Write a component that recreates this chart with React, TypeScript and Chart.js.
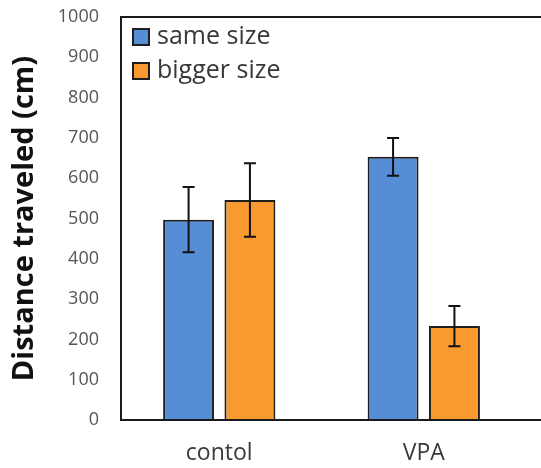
import React, { useEffect, useRef } from "react";
import { Chart, registerables } from "chart.js";

Chart.register(...registerables);

const categories = ["contol", "VPA"];
const seriesNames = ["same size", "bigger size"];
const sameSize = [497, 653];
const sameSizeErr = [81, 47];
const biggerSize = [546, 233];
const biggerSizeErr = [91, 50];
const yTicks = [0, 100, 200, 300, 400, 500, 600, 700, 800, 900, 1000];

const BLUE = "#558ed5";
const ORANGE = "#f99a31";
const EDGE = "#1e1e1e";
const FONT = "'Open Sans', 'Liberation Sans', sans-serif";

const errorBarPlugin = {
  id: "errorBars",
  afterDatasetsDraw(chart: any) {
    const ctx = chart.ctx;
    const y = chart.scales.y;
    ctx.save();
    ctx.strokeStyle = "#111";
    ctx.lineWidth = 2;
    chart.data.datasets.forEach((ds: any, di: number) => {
      const meta = chart.getDatasetMeta(di);
      meta.data.forEach((bar: any, i: number) => {
        const v = ds.data[i];
        const e = ds.errors[i];
        const top = y.getPixelForValue(v + e);
        const bot = y.getPixelForValue(v - e);
        const x = bar.x;
        ctx.beginPath();
        ctx.moveTo(x, top);
        ctx.lineTo(x, bot);
        ctx.moveTo(x - 6, top);
        ctx.lineTo(x + 6, top);
        ctx.moveTo(x - 6, bot);
        ctx.lineTo(x + 6, bot);
        ctx.stroke();
      });
    });
    ctx.restore();
  },
};

const framePlugin = {
  id: "frame",
  afterDraw(chart: any) {
    const ctx = chart.ctx;
    const a = chart.chartArea;
    const x0 = a.left + 4;
    ctx.save();
    ctx.strokeStyle = "#1a1a1a";
    ctx.lineWidth = 2;
    ctx.beginPath();
    ctx.moveTo(chart.width, a.top);
    ctx.lineTo(x0, a.top);
    ctx.lineTo(x0, a.bottom);
    ctx.lineTo(chart.width, a.bottom);
    ctx.stroke();
    // legend
    const colors = [BLUE, ORANGE];
    ctx.font = `25px ${FONT}`;
    ctx.textBaseline = "middle";
    chart.data.datasets.forEach((ds: any, i: number) => {
      const cy = a.top + 20 + i * 34;
      const sx = x0 + 12;
      ctx.fillStyle = colors[i];
      ctx.fillRect(sx, cy - 8, 16, 16);
      ctx.lineWidth = 2;
      ctx.strokeStyle = EDGE;
      ctx.strokeRect(sx, cy - 8, 16, 16);
      ctx.fillStyle = "#383838";
      ctx.fillText(ds.label, sx + 24, cy);
    });
    ctx.restore();
  },
};

export default function App() {
  const ref = useRef<HTMLCanvasElement>(null);
  useEffect(() => {
    if (!ref.current) return;
    const chart = new Chart(ref.current, {
      type: "bar",
      data: {
        labels: categories,
        datasets: [
          {
            label: seriesNames[0],
            data: sameSize,
            errors: sameSizeErr,
            backgroundColor: BLUE,
            borderColor: EDGE,
            borderWidth: 2,
          } as any,
          {
            label: seriesNames[1],
            data: biggerSize,
            errors: biggerSizeErr,
            backgroundColor: ORANGE,
            borderColor: EDGE,
            borderWidth: 2,
          } as any,
        ],
      },
      options: {
        animation: false,
        responsive: false,
        maintainAspectRatio: false,
        datasets: { bar: { categoryPercentage: 0.6, barPercentage: 0.83 } },
        layout: { padding: { left: 0, top: 17, right: 15, bottom: 0 } },
        plugins: { legend: { display: false }, tooltip: { enabled: false } },
        scales: {
          x: {
            grid: { display: false, drawTicks: false },
            border: { display: false },
            ticks: { font: { family: FONT, size: 23 }, color: "#3a3a3a", padding: 20 },
            afterFit: (s: any) => { s.height = 48; s.paddingLeft = 0; s.paddingRight = 0; },
          },
          y: {
            min: 0,
            max: 1000,
            afterBuildTicks: (s: any) => { s.ticks = yTicks.map((v) => ({ value: v })); },
            grid: { display: false, drawTicks: false },
            border: { display: false },
            ticks: {
              font: { family: FONT, size: 18 },
              color: "#555",
              padding: 18,
              callback: (v: any) => String(v),
            },
            title: {
              display: true,
              text: "Distance traveled (cm)",
              font: { family: FONT, size: 29, weight: "bold" },
              color: "#111",
              padding: { top: 7, bottom: 0 },
            },
            afterFit: (s: any) => { s.width = 117; s.paddingTop = 0; s.paddingBottom = 0; },
          },
        },
      },
      plugins: [errorBarPlugin, framePlugin],
    });
    return () => chart.destroy();
  }, []);
  return (
    <div style={{ position: "fixed", left: 0, top: 0, width: 541, height: 468, background: "#fff" }}>
      <canvas ref={ref} width={541} height={468} style={{ width: 541, height: 468 }} />
    </div>
  );
}
